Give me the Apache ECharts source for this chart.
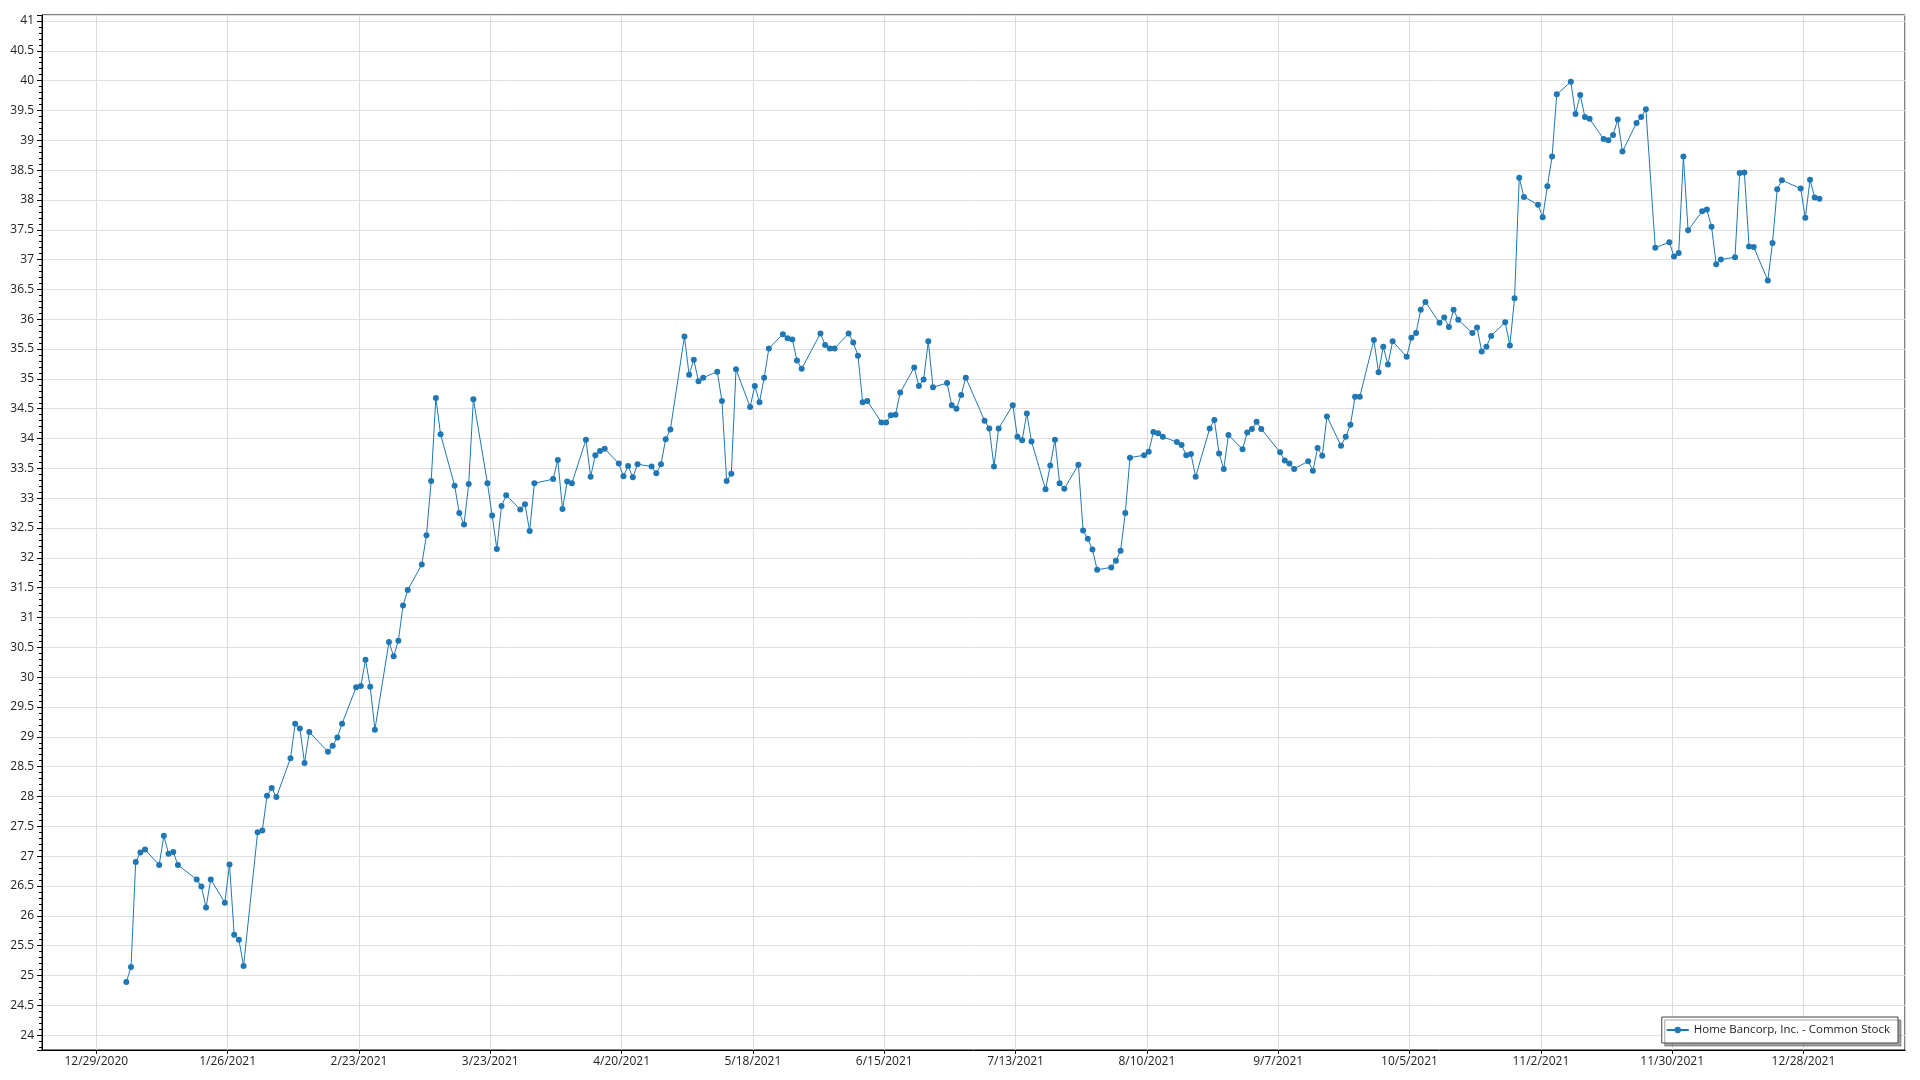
<!DOCTYPE html>
<html>
<head>
<meta charset="utf-8">
<script src="https://cdn.jsdelivr.net/npm/echarts@6/dist/echarts.min.js"></script>
<style>
html,body{margin:0;padding:0;background:#fff;}
#chart{width:1920px;height:1080px;}
</style>
</head>
<body>
<div id="chart"></div>
<script>
const seriesName = 'Home Bancorp, Inc. - Common Stock';
const dates = [
'2021-01-04','2021-01-05','2021-01-06','2021-01-07','2021-01-08','2021-01-11','2021-01-12','2021-01-13','2021-01-14','2021-01-15',
'2021-01-19','2021-01-20','2021-01-21','2021-01-22','2021-01-25','2021-01-26','2021-01-27','2021-01-28','2021-01-29',
'2021-02-01','2021-02-02','2021-02-03','2021-02-04','2021-02-05','2021-02-08','2021-02-09','2021-02-10','2021-02-11','2021-02-12',
'2021-02-16','2021-02-17','2021-02-18','2021-02-19','2021-02-22','2021-02-23','2021-02-24','2021-02-25','2021-02-26',
'2021-03-01','2021-03-02','2021-03-03','2021-03-04','2021-03-05','2021-03-08','2021-03-09','2021-03-10','2021-03-11','2021-03-12',
'2021-03-15','2021-03-16','2021-03-17','2021-03-18','2021-03-19','2021-03-22','2021-03-23','2021-03-24','2021-03-25','2021-03-26',
'2021-03-29','2021-03-30','2021-03-31',
'2021-04-01','2021-04-05','2021-04-06','2021-04-07','2021-04-08','2021-04-09','2021-04-12','2021-04-13','2021-04-14','2021-04-15','2021-04-16',
'2021-04-19','2021-04-20','2021-04-21','2021-04-22','2021-04-23','2021-04-26','2021-04-27','2021-04-28','2021-04-29','2021-04-30',
'2021-05-03','2021-05-04','2021-05-05','2021-05-06','2021-05-07','2021-05-10','2021-05-11','2021-05-12','2021-05-13','2021-05-14',
'2021-05-17','2021-05-18','2021-05-19','2021-05-20','2021-05-21','2021-05-24','2021-05-25','2021-05-26','2021-05-27','2021-05-28',
'2021-06-01','2021-06-02','2021-06-03','2021-06-04','2021-06-07','2021-06-08','2021-06-09','2021-06-10','2021-06-11',
'2021-06-14','2021-06-15','2021-06-16','2021-06-17','2021-06-18','2021-06-21','2021-06-22','2021-06-23','2021-06-24','2021-06-25',
'2021-06-28','2021-06-29','2021-06-30',
'2021-07-01','2021-07-02','2021-07-06','2021-07-07','2021-07-08','2021-07-09','2021-07-12','2021-07-13','2021-07-14','2021-07-15','2021-07-16',
'2021-07-19','2021-07-20','2021-07-21','2021-07-22','2021-07-23','2021-07-26','2021-07-27','2021-07-28','2021-07-29','2021-07-30',
'2021-08-02','2021-08-03','2021-08-04','2021-08-05','2021-08-06','2021-08-09','2021-08-10','2021-08-11','2021-08-12','2021-08-13',
'2021-08-16','2021-08-17','2021-08-18','2021-08-19','2021-08-20','2021-08-23','2021-08-24','2021-08-25','2021-08-26','2021-08-27',
'2021-08-30','2021-08-31',
'2021-09-01','2021-09-02','2021-09-03','2021-09-07','2021-09-08','2021-09-09','2021-09-10','2021-09-13','2021-09-14','2021-09-15','2021-09-16','2021-09-17',
'2021-09-20','2021-09-21','2021-09-22','2021-09-23','2021-09-24','2021-09-27','2021-09-28','2021-09-29','2021-09-30',
'2021-10-01','2021-10-04','2021-10-05','2021-10-06','2021-10-07','2021-10-08','2021-10-11','2021-10-12','2021-10-13','2021-10-14','2021-10-15',
'2021-10-18','2021-10-19','2021-10-20','2021-10-21','2021-10-22','2021-10-25','2021-10-26','2021-10-27','2021-10-28','2021-10-29',
'2021-11-01','2021-11-02','2021-11-03','2021-11-04','2021-11-05','2021-11-08','2021-11-09','2021-11-10','2021-11-11','2021-11-12',
'2021-11-15','2021-11-16','2021-11-17','2021-11-18','2021-11-19','2021-11-22','2021-11-23','2021-11-24','2021-11-26',
'2021-11-29','2021-11-30',
'2021-12-01','2021-12-02','2021-12-03','2021-12-06','2021-12-07','2021-12-08','2021-12-09','2021-12-10','2021-12-13','2021-12-14','2021-12-15',
'2021-12-16','2021-12-17','2021-12-20','2021-12-21','2021-12-22','2021-12-23','2021-12-27','2021-12-28','2021-12-29','2021-12-30','2021-12-31'
];
const prices = [
24.89,25.14,26.90,27.06,27.11,26.85,27.34,27.04,27.07,26.85,
26.61,26.49,26.14,26.61,26.22,26.86,25.68,25.60,25.16,
27.40,27.43,28.01,28.14,27.99,28.64,29.22,29.14,28.56,29.08,
28.75,28.85,28.99,29.22,29.83,29.85,30.29,29.84,29.12,
30.59,30.35,30.61,31.20,31.46,31.89,32.38,33.29,34.68,34.07,
33.21,32.75,32.56,33.24,34.66,33.25,32.71,32.15,32.87,33.05,
32.81,32.90,32.45,
33.25,33.32,33.64,32.82,33.28,33.25,33.98,33.36,33.72,33.79,33.83,
33.58,33.37,33.54,33.35,33.57,33.53,33.42,33.57,33.99,34.15,
35.71,35.07,35.32,34.96,35.02,35.12,34.63,33.29,33.41,35.16,
34.53,34.88,34.61,35.02,35.51,35.75,35.68,35.66,35.31,35.17,
35.76,35.57,35.51,35.51,35.76,35.61,35.39,34.61,34.63,
34.27,34.27,34.39,34.40,34.77,35.19,34.88,34.99,35.63,34.86,
34.93,34.56,34.50,
34.73,35.02,34.30,34.17,33.53,34.17,34.56,34.03,33.97,34.42,33.95,
33.15,33.55,33.98,33.25,33.16,33.56,32.46,32.32,32.14,31.80,
31.84,31.95,32.12,32.75,33.68,33.72,33.78,34.11,34.09,34.03,
33.94,33.89,33.72,33.74,33.36,34.17,34.31,33.75,33.49,34.06,
33.82,34.10,
34.16,34.28,34.16,33.77,33.63,33.58,33.49,33.62,33.46,33.84,33.71,34.37,
33.88,34.03,34.23,34.70,34.70,35.65,35.11,35.54,35.24,
35.63,35.37,35.69,35.77,36.16,36.29,35.94,36.03,35.87,36.16,35.99,
35.77,35.86,35.46,35.54,35.72,35.95,35.56,36.35,38.37,38.05,
37.92,37.71,38.23,38.73,39.77,39.98,39.44,39.76,39.39,39.36,
39.02,39.00,39.09,39.35,38.81,39.29,39.39,39.52,37.20,
37.29,37.05,
37.11,38.73,37.49,37.81,37.84,37.55,36.92,37.00,37.04,38.45,38.46,
37.22,37.21,36.65,37.28,38.18,38.33,38.19,37.70,38.34,38.04,38.02
];
const xTickStart = '2020-12-29';   // first labelled tick
const xTickStepDays = 28;
const yTickStep = 0.5;

const DAY = 86400000;
const t0 = Date.parse(xTickStart + 'T00:00:00Z');
const toDay = s => (Date.parse(s + 'T00:00:00Z') - t0) / DAY + 0.4;
const data = dates.map((d, i) => [toDay(d), prices[i]]);

const isMult = (v, step) => Math.abs(v / step - Math.round(v / step)) < 1e-6;
const fmtDate = v => {
  const dt = new Date(t0 + Math.round(v) * DAY);
  return (dt.getUTCMonth() + 1) + '/' + dt.getUTCDate() + '/' + dt.getUTCFullYear();
};

const chart = echarts.init(document.getElementById('chart'), null, {renderer: 'canvas'});
const font = '"Open Sans", "Noto Sans", sans-serif';
chart.setOption({
  animation: false,
  backgroundColor: '#fff',
  textStyle: {fontFamily: font},
  grid: {left: 42, right: 15, top: 15, bottom: 30, show: true, borderColor: '#000', borderWidth: 1, containLabel: false},
  xAxis: {
    type: 'value',
    min: -11.58, max: 385.65,
    splitNumber: 14,
    minInterval: xTickStepDays, maxInterval: xTickStepDays,
    axisLine: {show: true, onZero: false, lineStyle: {color: '#000', width: 1}},
    axisTick: {show: true, length: 4, lineStyle: {color: '#000'}},
    axisLabel: {
      margin: 6, fontSize: 12, color: '#222', fontFamily: font,
      showMinLabel: false, showMaxLabel: false,
      formatter: v => isMult(v, xTickStepDays) ? fmtDate(v) : ''
    },
    splitLine: {show: true, lineStyle: {color: '#dcdcdc', width: 1}}
  },
  yAxis: {
    type: 'value',
    min: 23.75, max: 41.1,
    splitNumber: 35,
    minInterval: yTickStep, maxInterval: yTickStep,
    axisLine: {show: true, onZero: false, lineStyle: {color: '#000', width: 1}},
    axisTick: {show: true, length: 5, lineStyle: {color: '#000'}},
    minorTick: {show: true, splitNumber: 5, length: 3, lineStyle: {color: '#000'}},
    axisLabel: {
      margin: 8, fontSize: 12, color: '#222', fontFamily: font,
      formatter: v => isMult(v, yTickStep) ? String(+v.toFixed(2)) : ''
    },
    splitLine: {show: true, lineStyle: {color: '#e0e0e0', width: 1}}
  },
  legend: {
    show: true,
    right: 22, bottom: 37,
    orient: 'horizontal',
    padding: [7, 8, 7, 4],
    itemWidth: 22, itemHeight: 8, itemGap: 5,
    backgroundColor: '#fff',
    borderColor: '#444', borderWidth: 1, borderRadius: 0,
    shadowColor: 'rgba(0,0,0,0.35)', shadowBlur: 0, shadowOffsetX: 3, shadowOffsetY: 3,
    textStyle: {fontSize: 11.5, color: '#222', fontFamily: font},
    data: [seriesName]
  },
  series: [{
    name: seriesName,
    type: 'line',
    data: data,
    symbol: 'circle',
    symbolSize: 6,
    showSymbol: true,
    showAllSymbol: true,
    color: '#1f77b4',
    lineStyle: {width: 1, color: '#1f77b4'},
    itemStyle: {color: '#1f77b4'},
    emphasis: {disabled: true}
  }]
});
</script>
</body>
</html>
